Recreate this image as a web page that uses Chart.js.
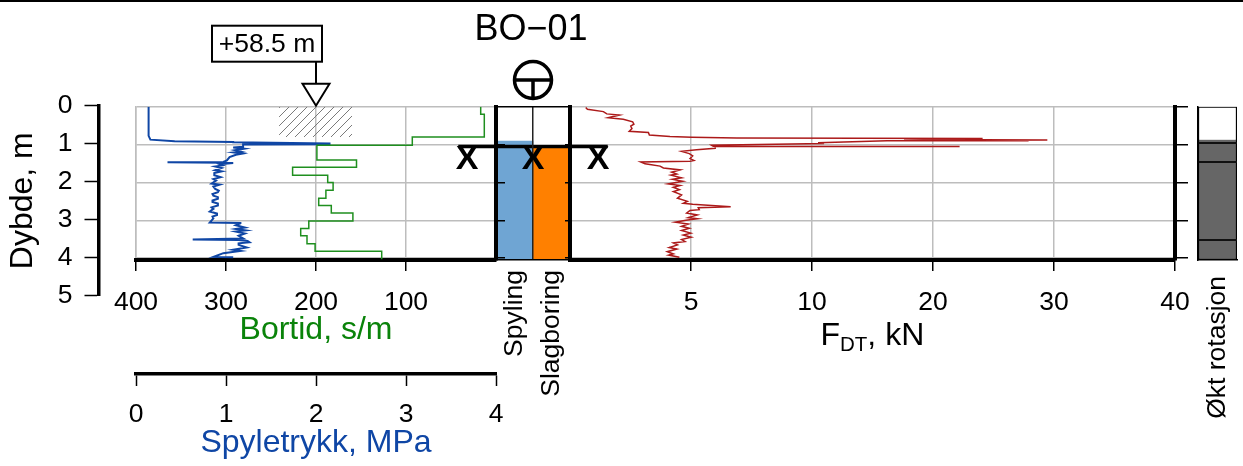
<!DOCTYPE html>
<html>
<head>
<meta charset="utf-8">
<title>BO-01</title>
<script src="https://cdn.jsdelivr.net/npm/chart.js@4"></script>
<style>
  html, body { margin: 0; padding: 0; background: #fff; overflow: hidden; }
  #strek { position: absolute; left: 0; top: 0; width: 1243px; height: 2px; background: #000; }
  canvas { position: absolute; top: 0; left: 0; }
</style>
</head>
<body>
<div id="strek"></div>
<canvas id="dybdeAkse" width="112" height="466"></canvas>
<canvas id="venstre" width="1243" height="466"></canvas>
<canvas id="hoyre" width="1243" height="466"></canvas>
<canvas id="rotasjon" width="1243" height="466"></canvas>
<canvas id="midt" width="1243" height="466"></canvas>
<script>
// Spyletrykk, MPa
const trykkDybde = [0, 0.77, 0.87, 0.91, 0.93, 0.94, 0.97, 0.99, 1.0, 1.03, 1.06, 1.08, 1.11, 1.15, 1.19, 1.21, 1.24, 1.27, 1.33, 1.42, 1.46, 1.47, 1.48, 1.49, 1.52, 1.55, 1.58, 1.62, 1.68, 1.71, 1.75, 1.81, 1.86, 1.91, 1.95, 2.03, 2.06, 2.11, 2.17, 2.22, 2.26, 2.31, 2.35, 2.39, 2.43, 2.48, 2.52, 2.56, 2.61, 2.66, 2.70, 2.77, 2.82, 2.86, 2.90, 2.95, 3.06, 3.07, 3.08, 3.13, 3.19, 3.23, 3.27, 3.30, 3.35, 3.41, 3.48, 3.51, 3.52, 3.55, 3.58, 3.61, 3.65, 3.72, 3.78, 3.81, 3.87, 3.97, 3.98];
const trykkVerdi = [0.14, 0.14, 0.16, 0.43, 1.08, 1.08, 2.15, 2.15, 1.19, 1.19, 1.19, 1.08, 1.2, 1.10, 1.17, 1.09, 1.18, 1.11, 1.04, 1.01, 0.97, 0.35, 0.97, 1.08, 0.93, 0.96, 0.88, 0.95, 0.88, 0.95, 0.87, 0.87, 0.94, 0.86, 0.89, 0.84, 0.93, 0.86, 0.88, 0.92, 0.91, 0.85, 0.86, 0.91, 0.91, 0.85, 0.85, 0.91, 0.91, 0.84, 0.86, 0.82, 0.90, 0.90, 0.85, 0.86, 0.82, 1.16, 1.16, 1.11, 1.21, 1.11, 1.22, 1.11, 1.21, 1.14, 1.19, 0.63, 1.14, 1.24, 1.26, 1.14, 1.14, 1.23, 1.08, 1.16, 0.97, 0.86, 1.08];

// Bortid, s/m (verdien gjelder fra dybden og ned til neste dybde)
const bortidDybde = [0, 0.2, 0.8, 1.02, 1.41, 1.6, 1.81, 2.0, 2.21, 2.42, 2.61, 2.81, 3.02, 3.22, 3.41, 3.62, 3.82, 4.03];
const bortidVerdi = [17, 13, 93, 199, 155, 226, 187, 181, 189, 197, 183, 159, 208, 217, 210, 201, 127, 127];

// skravert felt
const skraveringBortid = [241, 160, 160, 241];
const skraveringDybde = [0, 0, 0.8, 0.8];

// FDT, kN
const kraftDybde = [0.02, 0.07, 0.13, 0.19, 0.22, 0.29, 0.33, 0.40, 0.46, 0.51, 0.58, 0.65, 0.68, 0.75, 0.79, 0.81, 0.83, 0.84, 0.85, 0.87, 0.88, 0.89, 0.90, 0.90, 0.95, 0.97, 1.02, 1.045, 1.05, 1.06, 1.1, 1.14, 1.18, 1.24, 1.30, 1.37, 1.42, 1.44, 1.46, 1.51, 1.53, 1.57, 1.62, 1.67, 1.73, 1.78, 1.81, 1.88, 1.92, 1.97, 2.04, 2.08, 2.13, 2.19, 2.24, 2.33, 2.42, 2.50, 2.55, 2.58, 2.64, 2.67, 2.72, 2.74, 2.81, 2.86, 2.93, 2.96, 3.0, 3.05, 3.10, 3.16, 3.21, 3.27, 3.34, 3.39, 3.45, 3.51, 3.56, 3.60, 3.65, 3.72, 3.76, 3.83, 3.89, 3.92, 3.98];
const kraftVerdi = [0.65, 0.72, 1.38, 1.52, 2.04, 1.58, 2.2, 2.59, 2.64, 2.51, 2.56, 2.45, 3.24, 3.28, 4.13, 5.03, 6.9, 24.1, 17.6, 24.1, 29.45, 17.6, 27.9, 16.2, 10.5, 11, 5.85, 5.92, 22.2, 6.0, 6.0, 5.23, 4.61, 4.93, 5.07, 4.96, 5.12, 4.96, 2.92, 3.1, 3.3, 3.72, 3.86, 4.55, 4.2, 4.41, 4.17, 4.61, 4.24, 4.66, 4.06, 4.55, 4.27, 4.52, 4.27, 4.61, 4.44, 4.85, 4.68, 5.07, 6.64, 5.3, 5.34, 4.96, 4.82, 5.26, 4.89, 5.26, 4.79, 4.35, 4.89, 4.61, 4.93, 4.61, 4.99, 4.68, 5.01, 4.61, 4.75, 4.27, 4.44, 4.1, 4.41, 4.02, 4.27, 4.08, 4.52];

// kraftaksen har like lange intervaller mellom disse verdiene
const kraftTicks = [0, 5, 10, 20, 30, 40];

// metode
const metoder = ['Spyling', 'Slagboring'];
const metodeStart = [0.91, 1.05];
const bunnDybde = 4.05;
const forboretDybde = 1.05;

// økt rotasjon
const rotasjonLabel = ['Økt rotasjon'];
const rotasjonStart = 0.87;
const rotasjonLinjer = [0.95, 1.46, 3.51];

const dybdeTicks = [0, 1, 2, 3, 4, 5];
const terrengTekst = '+58.5 m';
const terrengBortid = 200;
const tittel = 'BO−01';

const FONT = 'Liberation Sans, Arial, sans-serif';
const GRID = '#bdbdbd';
const TICKFONT = { family: FONT, size: 26.5 };
const TITLEFONT = { family: FONT, size: 32 };
Chart.defaults.color = '#000';
Chart.defaults.animation = false;

function punkter(xs, ys) {
  return xs.map((x, i) => ({ x: x, y: ys[i] }));
}

// kN -> posisjon paa kraftaksen (ett intervall = en enhet)
function kraftTilAkse(f) {
  for (let i = 1; i < kraftTicks.length; i++) {
    if (f <= kraftTicks[i]) {
      return i - 1 + (f - kraftTicks[i - 1]) / (kraftTicks[i] - kraftTicks[i - 1]);
    }
  }
  return kraftTicks.length - 1;
}

function lagSkravering() {
  const c = document.createElement('canvas');
  c.width = 9;
  c.height = 9;
  const g = c.getContext('2d');
  g.strokeStyle = '#7a7a7a';
  g.lineWidth = 1;
  g.beginPath();
  g.moveTo(-1, 10); g.lineTo(10, -1);
  g.moveTo(-1, 1); g.lineTo(1, -1);
  g.moveTo(8, 10); g.lineTo(10, 8);
  g.stroke();
  return g.createPattern(c, 'repeat');
}

function fastBredde(b) { return s => { s.width = b; }; }
// roterte etiketter skal ikke krympe plottet
function fastHoyde(h) {
  return s => { s.height = h; s.paddingLeft = 0; s.paddingRight = 0; };
}

const skjultY = {
  type: 'linear', reverse: true, min: 0, max: bunnDybde, position: 'left',
  ticks: { display: false, stepSize: 1, includeBounds: false },
  afterFit: fastBredde(0)
};

// Dybdeaksen helt til venstre
new Chart(document.getElementById('dybdeAkse'), {
  type: 'line',
  data: { labels: [0, 1], datasets: [{ data: [], yAxisID: 'y' }] },
  options: {
    responsive: false,
    layout: { padding: { top: 105.7, bottom: 170.3, right: 13.5 } },
    plugins: { legend: { display: false }, tooltip: { enabled: false } },
    scales: {
      x: { display: false },
      y: {
        type: 'linear', reverse: true, min: dybdeTicks[0], max: dybdeTicks[dybdeTicks.length - 1],
        grid: { drawOnChartArea: false, tickLength: 14, tickWidth: 1.5, tickColor: '#000' },
        border: { color: '#000', width: 3.5 },
        ticks: { font: TICKFONT, stepSize: 1, padding: 12 },
        title: { display: true, text: 'Dybde, m', font: TITLEFONT, padding: { top: 4, bottom: 0 } },
        afterFit: fastBredde(98.5)
      }
    }
  }
});

// Nivaamerket over bortid-sporet
const terrengPlugin = {
  id: 'terreng',
  afterDraw(chart) {
    const ctx = chart.ctx;
    const x = chart.scales.xBortid.getPixelForValue(terrengBortid);
    const bunn = chart.chartArea.top - 1;
    ctx.save();
    ctx.strokeStyle = '#000';
    ctx.lineWidth = 2;
    ctx.beginPath();
    ctx.moveTo(x, bunn - 44);
    ctx.lineTo(x, bunn - 22);
    ctx.stroke();
    ctx.fillStyle = '#fff';
    ctx.beginPath();
    ctx.moveTo(x - 13.5, bunn - 22);
    ctx.lineTo(x + 13.5, bunn - 22);
    ctx.lineTo(x, bunn);
    ctx.closePath();
    ctx.fill();
    ctx.stroke();
    ctx.fillRect(x - 104, bunn - 80, 110, 36);
    ctx.strokeRect(x - 104, bunn - 80, 110, 36);
    ctx.fillStyle = '#000';
    ctx.font = '26.5px ' + FONT;
    ctx.textAlign = 'center';
    ctx.textBaseline = 'middle';
    ctx.fillText(terrengTekst, x - 49, bunn - 61);
    ctx.restore();
  }
};

new Chart(document.getElementById('venstre'), {
  type: 'line',
  data: {
    datasets: [
      {
        data: punkter(skraveringBortid, skraveringDybde), xAxisID: 'xBortid', yAxisID: 'y',
        fill: 'shape', backgroundColor: lagSkravering(), borderWidth: 0, pointRadius: 0
      },
      {
        data: punkter(bortidVerdi, bortidDybde), xAxisID: 'xBortid', yAxisID: 'y',
        stepped: 'after', borderColor: '#1f8f1f', borderWidth: 1.5, pointRadius: 0
      },
      {
        data: punkter(trykkVerdi, trykkDybde), xAxisID: 'xTrykk', yAxisID: 'y',
        borderColor: '#0f46a5', borderWidth: 2, pointRadius: 0
      }
    ]
  },
  plugins: [terrengPlugin],
  options: {
    responsive: false,
    layout: { padding: { left: 136, right: 747, top: 106.7 } },
    plugins: { legend: { display: false }, tooltip: { enabled: false } },
    scales: {
      y: Object.assign({}, skjultY, {
        grid: { color: GRID, lineWidth: 1.5, drawTicks: false },
        border: { color: GRID, width: 1.5 }
      }),
      xBortid: {
        type: 'linear', position: 'bottom', reverse: true, min: 0, max: 400, weight: 1,
        grid: {
          color: GRID, lineWidth: 1.5, tickLength: 11, tickWidth: 1.5,
          tickColor: c => (c.tick && c.tick.value === 0 ? 'transparent' : '#000')
        },
        border: { color: '#000', width: 4 },
        ticks: {
          font: TICKFONT, stepSize: 100, maxRotation: 0, autoSkip: false, padding: 16,
          callback: v => (v === 0 ? '' : String(v))
        },
        title: { display: true, text: 'Bortid, s/m', color: '#0a830a', font: TITLEFONT, padding: { top: 0, bottom: 25 } },
        afterFit: fastHoyde(114)
      },
      xTrykk: {
        type: 'linear', position: 'bottom', min: 0, max: 4, weight: 2,
        grid: { drawOnChartArea: false, tickLength: 12, tickWidth: 1.5, tickColor: '#000' },
        border: { color: '#000', width: 3.5 },
        ticks: { font: TICKFONT, stepSize: 1, maxRotation: 0, autoSkip: false, padding: 13 },
        title: { display: true, text: 'Spyletrykk, MPa', color: '#0f46a5', font: TITLEFONT, padding: { top: 0, bottom: 4 } },
        afterFit: fastHoyde(92)
      }
    }
  }
});

// FDT har senket skrift i aksetittelen, tegnes i biter
const kraftTittelPlugin = {
  id: 'kraftTittel',
  afterDraw(chart) {
    const ctx = chart.ctx;
    const midt = (chart.scales.xKraft.left + chart.scales.xKraft.right) / 2;
    let x = midt - 52;
    ctx.save();
    ctx.fillStyle = '#000';
    ctx.textAlign = 'left';
    ctx.textBaseline = 'alphabetic';
    ctx.font = '32px ' + FONT;
    ctx.fillText('F', x, 345);
    x += ctx.measureText('F').width;
    ctx.font = '20.5px ' + FONT;
    ctx.fillText('DT', x, 351);
    x += ctx.measureText('DT').width;
    ctx.font = '32px ' + FONT;
    ctx.fillText(', kN', x, 345);
    ctx.restore();
  }
};

new Chart(document.getElementById('hoyre'), {
  type: 'line',
  data: {
    datasets: [{
      data: punkter(kraftVerdi.map(kraftTilAkse), kraftDybde), xAxisID: 'xKraft', yAxisID: 'y',
      borderColor: '#ac1a1a', borderWidth: 1.5, pointRadius: 0
    }]
  },
  plugins: [kraftTittelPlugin],
  options: {
    responsive: false,
    layout: { padding: { left: 570, right: 53, top: 106.7 } },
    plugins: { legend: { display: false }, tooltip: { enabled: false } },
    scales: {
      y: Object.assign({}, skjultY, {
        position: 'right',
        grid: { color: GRID, lineWidth: 1.5, tickLength: 13, tickWidth: 1.5, tickColor: '#000' },
        border: { color: '#000', width: 4 },
        afterFit: fastBredde(15)
      }),
      xKraft: {
        type: 'linear', position: 'bottom', min: 0, max: kraftTicks.length - 1,
        grid: {
          color: GRID, lineWidth: 1.5, tickLength: 11, tickWidth: 1.5,
          tickColor: c => (c.tick && c.tick.value === 0 ? 'transparent' : '#000')
        },
        border: { color: '#000', width: 4 },
        ticks: {
          font: TICKFONT, stepSize: 1, maxRotation: 0, autoSkip: false, padding: 16,
          callback: v => (v === 0 ? '' : String(kraftTicks[v]))
        },
        afterFit: fastHoyde(206)
      }
    }
  }
});

// Stripen for okt rotasjon
new Chart(document.getElementById('rotasjon'), {
  type: 'bar',
  data: {
    labels: rotasjonLabel,
    datasets: [
      { data: [[rotasjonStart, bunnDybde]], backgroundColor: '#666666', borderColor: '#000', borderWidth: { left: 1.5, right: 1.5, bottom: 1.5, top: 0 }, borderSkipped: false, order: 1, grouped: false, barPercentage: 1, categoryPercentage: 1 },
      { data: [[0, bunnDybde]], backgroundColor: '#fff', borderColor: '#000', borderWidth: 1.5, borderSkipped: false, order: 2, grouped: false, barPercentage: 1, categoryPercentage: 1 }
    ]
  },
  options: {
    responsive: false,
    layout: { padding: { left: 1198, right: 6, top: 106.7 } },
    plugins: { legend: { display: false }, tooltip: { enabled: false } },
    scales: {
      x: {
        grid: { display: false },
        border: { color: '#000', width: 1.5, z: 2 },
        ticks: { font: TICKFONT, minRotation: 90, maxRotation: 90, autoSkip: false, padding: 8 },
        afterFit: fastHoyde(206)
      },
      y: Object.assign({}, skjultY, {
        grid: { color: '#111', lineWidth: 2, z: 1, drawTicks: false },
        border: { color: '#000', width: 1.5, z: 2 },
        afterBuildTicks: s => { s.ticks = rotasjonLinjer.map(v => ({ value: v })); }
      })
    }
  }
});

// Tittel, X-ene og boresymbolet
const metodePlugin = {
  id: 'metodeMerker',
  afterDraw(chart) {
    const ctx = chart.ctx;
    const xp = chart.scales.xPos;
    const y = chart.scales.y;
    const cx = xp.getPixelForValue(0.5);
    const cy = chart.chartArea.top - 26.7;
    ctx.save();
    ctx.fillStyle = '#000';
    ctx.textAlign = 'center';
    ctx.textBaseline = 'middle';
    ctx.font = '36px ' + FONT;
    ctx.fillText(tittel, cx - 2, 30);
    ctx.font = 'bold 34px ' + FONT;
    [-0.39, 0.5, 1.38].forEach(v => {
      ctx.fillText('X', xp.getPixelForValue(v), y.getPixelForValue(forboretDybde) + 13);
    });
    ctx.strokeStyle = '#000';
    ctx.lineWidth = 3.5;
    ctx.beginPath();
    ctx.arc(cx, cy, 18.5, 0, Math.PI * 2);
    ctx.moveTo(cx - 18.5, cy);
    ctx.lineTo(cx + 18.5, cy);
    ctx.moveTo(cx, cy);
    ctx.lineTo(cx, cy + 18.5);
    ctx.stroke();
    ctx.restore();
  }
};

new Chart(document.getElementById('midt'), {
  type: 'bar',
  data: {
    labels: metoder,
    datasets: [
      {
        data: metodeStart.map(d => [d, bunnDybde]),
        backgroundColor: ['#6fa5d3', '#ff8000'], grouped: false, order: 2,
        barPercentage: 1, categoryPercentage: 1, xAxisID: 'x', yAxisID: 'y'
      },
      {
        type: 'line', order: 1,
        data: punkter([-0.51, 1.51], [forboretDybde, forboretDybde]),
        xAxisID: 'xPos', yAxisID: 'y', borderColor: '#000', borderWidth: 3.5, pointRadius: 0, clip: false
      }
    ]
  },
  plugins: [metodePlugin],
  options: {
    responsive: false,
    layout: { padding: { left: 496, right: 673, top: 106.7 } },
    plugins: { legend: { display: false }, tooltip: { enabled: false } },
    scales: {
      x: {
        grid: { offset: true, color: '#222', lineWidth: 1.5, z: 1, drawTicks: false },
        border: { color: '#000', width: 1.5, z: 2 },
        ticks: { font: TICKFONT, minRotation: 90, maxRotation: 90, autoSkip: false, padding: 10 },
        afterFit: fastHoyde(206)
      },
      xPos: { type: 'linear', min: 0, max: 1, display: false, offset: false },
      y: Object.assign({}, skjultY, {
        grid: { color: '#000', lineWidth: 1.5, z: 1, drawTicks: false },
        border: {
          color: '#000', width: 4, z: 2,
          dash: c => (c.tick && c.tick.value === 0 ? [] : [7, 60])
        }
      }),
      yH: Object.assign({}, skjultY, {
        position: 'right',
        grid: { drawOnChartArea: false, drawTicks: false },
        border: { color: '#000', width: 4, z: 2 }
      })
    }
  }
});
</script>
</body>
</html>
